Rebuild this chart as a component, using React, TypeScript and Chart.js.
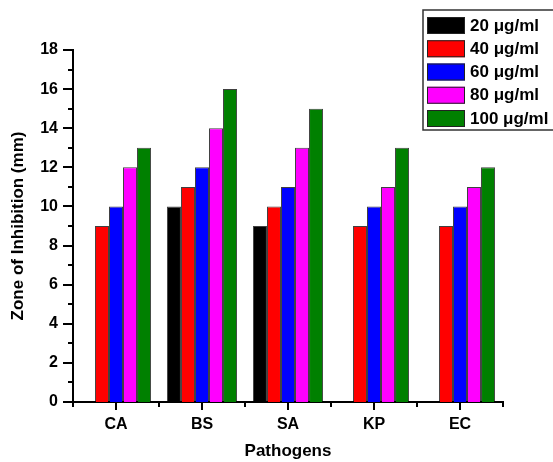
import React, { useEffect, useRef } from "react";
import { Chart, registerables } from "chart.js";

Chart.register(...registerables);

const categories = ["CA", "BS", "SA", "KP", "EC"];
const seriesLabels = ["20 μg/ml", "40 μg/ml", "60 μg/ml", "80 μg/ml", "100 μg/ml"];
const seriesColors = ["#000000", "#ff0000", "#0000ff", "#ff00ff", "#008000"];
const s20: (number | null)[] = [null, 10, 9, null, null];
const s40 = [9, 11, 10, 9, 9];
const s60 = [10, 12, 11, 10, 10];
const s80 = [12, 14, 13, 11, 11];
const s100 = [13, 16, 15, 13, 12];
const seriesValues = [s20, s40, s60, s80, s100];
const yTickValues = [0, 2, 4, 6, 8, 10, 12, 14, 16, 18];

const FONT = 'Arial, "Liberation Sans", sans-serif';

const decorPlugin = {
  id: "decor",
  afterDraw(chart: any) {
    const ctx = chart.ctx;
    const y = chart.scales.y;
    const x = chart.scales.x;
    const area = chart.chartArea;
    ctx.save();
    ctx.strokeStyle = "#000";
    ctx.lineWidth = 2;
    // y ticks (major + minor)
    for (let v = y.min; v <= y.max; v += 1) {
      const py = Math.round(y.getPixelForValue(v));
      const major = yTickValues.includes(v);
      ctx.beginPath();
      ctx.moveTo(area.left - (major ? 10 : 5), py);
      ctx.lineTo(area.left, py);
      ctx.stroke();
    }
    // x ticks
    const n = categories.length;
    const step = (area.right - area.left) / n;
    for (let i = 0; i < n; i++) {
      const px = Math.round(x.getPixelForValue(i));
      ctx.beginPath();
      ctx.moveTo(px, area.bottom);
      ctx.lineTo(px, area.bottom + 8);
      ctx.stroke();
    }
    for (let i = 0; i <= n; i++) {
      const px = Math.round(area.left + step * i);
      ctx.beginPath();
      ctx.moveTo(px, area.bottom);
      ctx.lineTo(px, area.bottom + 5);
      ctx.stroke();
    }
    // legend
    const bx = 423, by = 10, bw = 140, bh = 120;
    ctx.lineWidth = 1.5;
    ctx.strokeStyle = "#333";
    ctx.strokeRect(bx, by, bw, bh);
    ctx.font = `bold 17px ${FONT}`;
    ctx.textBaseline = "middle";
    ctx.textAlign = "left";
    chart.data.datasets.forEach((ds: any, i: number) => {
      const top = 17 + i * 23.25;
      ctx.fillStyle = ds.backgroundColor;
      ctx.fillRect(427, top, 38, 17);
      ctx.lineWidth = 1;
      ctx.strokeStyle = "#222";
      ctx.strokeRect(427.5, top + 0.5, 37, 16);
      ctx.fillStyle = "#000";
      ctx.fillText(ds.label, 470, top + 9);
    });
    ctx.restore();
  },
};

export default function App() {
  const ref = useRef<HTMLCanvasElement>(null);
  useEffect(() => {
    if (!ref.current) return;
    const chart = new Chart(ref.current, {
      type: "bar",
      data: {
        labels: categories,
        datasets: seriesLabels.map((label, i) => ({
          label,
          data: seriesValues[i],
          backgroundColor: seriesColors[i],
          borderColor: "rgba(0,0,0,0.75)",
          borderWidth: 1,
          categoryPercentage: 0.815,
          barPercentage: 1,
        })),
      },
      options: {
        animation: false,
        responsive: false,
        maintainAspectRatio: false,
        layout: { padding: { top: 50, right: 50, left: 0, bottom: 0 } },
        plugins: { legend: { display: false }, tooltip: { enabled: false } },
        scales: {
          x: {
            offset: true,
            grid: { display: false, drawTicks: false },
            border: { display: true, color: "#000", width: 2 },
            ticks: { color: "#000", font: { family: FONT, size: 16, weight: "bold" }, padding: 13 },
            title: {
              display: true,
              text: "Pathogens",
              color: "#000",
              font: { family: FONT, size: 17, weight: "bold" },
              padding: { top: 0, bottom: 0 },
            },
            afterFit: (s: any) => { s.height = 60; },
          },
          y: {
            min: 0,
            max: 18,
            grid: { display: false, drawTicks: false },
            border: { display: true, color: "#000", width: 2 },
            ticks: { stepSize: 2, color: "#000", font: { family: FONT, size: 16, weight: "bold" }, padding: 15 },
            title: {
              display: true,
              text: "Zone of Inhibition (mm)",
              color: "#000",
              font: { family: FONT, size: 17, weight: "bold" },
              padding: { top: 8, bottom: 0 },
            },
            afterFit: (s: any) => { s.width = 73; },
          },
        },
      },
      plugins: [decorPlugin],
    });
    return () => chart.destroy();
  }, []);
  return (
    <div style={{ position: "fixed", left: 0, top: 0, width: 553, height: 462, background: "#fff" }}>
      <canvas ref={ref} width={553} height={462} style={{ width: 553, height: 462 }} />
    </div>
  );
}
